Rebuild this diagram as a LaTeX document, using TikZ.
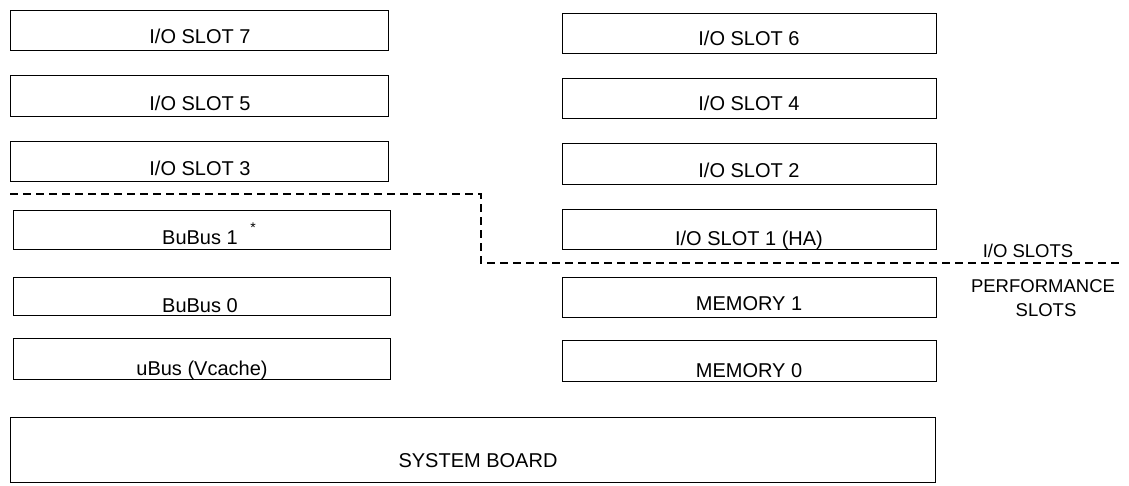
\documentclass[tikz,border=0pt]{standalone}
\usepackage{fontspec}
\setmainfont{Liberation Sans}
\begin{document}
\begin{tikzpicture}[x=1pt,y=-1pt,
  slotbox/.style={draw, line width=1.3pt, inner sep=0pt},
  lbl/.style={anchor=base, inner sep=0pt, font=\fontsize{20}{24}\selectfont},
  sidelbl/.style={anchor=base, inner sep=0pt, font=\fontsize{18.5}{22}\selectfont},
  divider/.style={line width=1.3pt, dash pattern=on 8pt off 5pt}]
\useasboundingbox (0,0) rectangle (1129,485);
% left column
\node[slotbox, minimum width=378pt, minimum height=40pt, anchor=north west] (s7) at (10,10) {};
\node[slotbox, minimum width=378pt, minimum height=41pt, anchor=north west] (s5) at (10,75) {};
\node[slotbox, minimum width=378pt, minimum height=40pt, anchor=north west] (s3) at (10,141) {};
\node[slotbox, minimum width=377pt, minimum height=39pt, anchor=north west] (bb1) at (13,210) {};
\node[slotbox, minimum width=377pt, minimum height=38pt, anchor=north west] (bb0) at (13,277) {};
\node[slotbox, minimum width=377pt, minimum height=41pt, anchor=north west] (ub) at (13,338) {};
% right column
\node[slotbox, minimum width=374pt, minimum height=40pt, anchor=north west] (s6) at (562,13) {};
\node[slotbox, minimum width=374pt, minimum height=40pt, anchor=north west] (s4) at (562,78) {};
\node[slotbox, minimum width=374pt, minimum height=41pt, anchor=north west] (s2) at (562,143) {};
\node[slotbox, minimum width=374pt, minimum height=40pt, anchor=north west] (s1) at (562,209) {};
\node[slotbox, minimum width=374pt, minimum height=40pt, anchor=north west] (m1) at (562,277) {};
\node[slotbox, minimum width=374pt, minimum height=41pt, anchor=north west] (m0) at (562,340) {};
% system board
\node[slotbox, minimum width=925pt, minimum height=65pt, anchor=north west] (sb) at (10,417) {};
% labels
\node[lbl] (t7) at (200,43) {I/O SLOT 7};
\node[lbl] (t5) at (200,110) {I/O SLOT 5};
\node[lbl] (t3) at (200,175) {I/O SLOT 3};
\node[lbl] (tb1) at (200,244) {BuBus 1};
\node[inner sep=0pt, font=\fontsize{14}{16}\selectfont] (ast) at (253,228) {*};
\node[lbl] (tb0) at (200,312) {BuBus 0};
\node[lbl] (tub) at (202,375) {uBus (Vcache)};
\node[lbl] (t6) at (749,45) {I/O SLOT 6};
\node[lbl] (t4) at (749,110) {I/O SLOT 4};
\node[lbl] (t2) at (749,177) {I/O SLOT 2};
\node[lbl] (t1) at (749,245) {I/O SLOT 1 (HA)};
\node[lbl] (tm1) at (749,310) {MEMORY 1};
\node[lbl] (tm0) at (749,377) {MEMORY 0};
\node[lbl] (tsb) at (478,467) {SYSTEM BOARD};
\node[sidelbl] (io) at (1028,257) {I/O SLOTS};
\node[sidelbl] (perf) at (1043,292) {PERFORMANCE};
\node[sidelbl] (perf2) at (1046,316) {SLOTS};
% divider
\coordinate (d0) at (10,194);
\coordinate (d1) at (481,194);
\coordinate (d2) at (481,263);
\coordinate (d3) at (1122,263);
\draw[divider] (d0) -- (d1) -- (d2) -- (d3);
\end{tikzpicture}
\end{document}
